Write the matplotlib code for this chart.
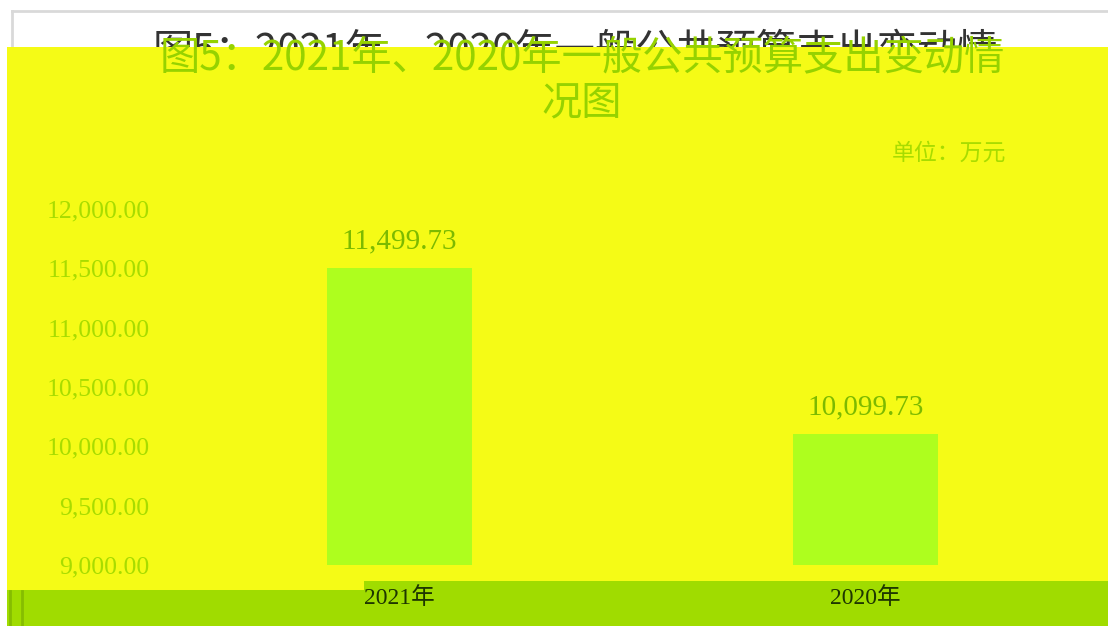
import matplotlib
matplotlib.use("Agg")
import matplotlib.pyplot as plt
from matplotlib.patches import Rectangle
from matplotlib.lines import Line2D

plt.rcParams['font.family'] = ['Liberation Serif', 'Noto Sans CJK SC', 'DejaVu Sans']

# data
years = ["2021年", "2020年"]
spending = [11499.73, 10099.73]
y_ticks = [9000, 9500, 10000, 10500, 11000, 11500, 12000]
title = "图5：2021年、2020年一般公共预算支出变动情\n况图"
unit = "单位：万元"

W, H = 1108, 626
fig = plt.figure(figsize=(W / 100, H / 100), dpi=100)
fig.patch.set_facecolor("white")


def fx(x):
    return x / W


def fy(y):
    return 1 - y / H


# page frame (grey) peeking out above the yellow box
fig.add_artist(Line2D([fx(12), 1], [fy(11), fy(11)], color="#d9d9d9", lw=2, zorder=1))
fig.add_artist(Line2D([fx(12), fx(12)], [fy(11), fy(47)], color="#d9d9d9", lw=2, zorder=1))

# dark original title, only its top sliver shows above the yellow box
dark = fig.text(fx(575), fy(30), title.split("\n")[0], ha="center", va="top", fontsize=29,
                color="#333333", family=['Noto Sans CJK SC'], zorder=2)
clip = Rectangle((0, fy(47)), 1, 1 - fy(47), transform=fig.transFigure)
dark.set_clip_path(clip)

# yellow overlay and green band
fig.add_artist(Rectangle((fx(7), fy(581)), 1 - fx(7), fy(47) - fy(581),
                         transform=fig.transFigure, facecolor="#f5fb16", edgecolor="none", zorder=3))
fig.add_artist(Rectangle((fx(7), 0), 1 - fx(7), fy(581),
                         transform=fig.transFigure, facecolor="#a0dc00", edgecolor="none", zorder=3))
fig.add_artist(Rectangle((fx(7), fy(590)), fx(364) - fx(7), fy(581) - fy(590),
                         transform=fig.transFigure, facecolor="#f5fb16", edgecolor="none", zorder=3.1))
for xv in [10, 22]:
    fig.add_artist(Line2D([fx(xv), fx(xv)], [0, fy(591)], color="#86bd00", lw=2, zorder=3.2))

# green title on the yellow box
fig.text(fx(582), fy(37), title, ha="center", va="top", fontsize=29, color="#96d200",
         family=['Noto Sans CJK SC'], linespacing=1.15, zorder=4)
fig.text(fx(1006), fy(153), unit, ha="right", va="center", fontsize=16.5, color="#a8dc00",
         family=['Noto Sans CJK SC'], zorder=4)

ax = fig.add_axes([fx(166), fy(565), fx(1099) - fx(166), fy(209) - fy(565)], zorder=5)
ax.patch.set_alpha(0)
x = list(range(len(years)))
bars = ax.bar(x, spending, width=0.31, color="#aefe1e", zorder=2)
ax.set_xlim(-0.5, 1.5)
ax.set_ylim(9000, 12000)
ax.set_yticks(y_ticks)
ax.set_yticklabels([f"{v:,.2f}" for v in y_ticks])
ax.set_xticks(x)
ax.set_xticklabels(years)
for s in ax.spines.values():
    s.set_visible(False)
ax.tick_params(axis="y", length=0, pad=12, labelsize=18.5, labelcolor="#a8dc00")
ax.tick_params(axis="x", length=0, pad=16, labelsize=17, labelcolor="#1e3600")

for b, v in zip(bars, spending):
    ax.annotate(f"{v:,.2f}", (b.get_x() + b.get_width() / 2, v), xytext=(0, 10),
                textcoords="offset points", ha="center", va="bottom", fontsize=21,
                color="#7cba00")

fig.savefig("out.png", dpi=100)
